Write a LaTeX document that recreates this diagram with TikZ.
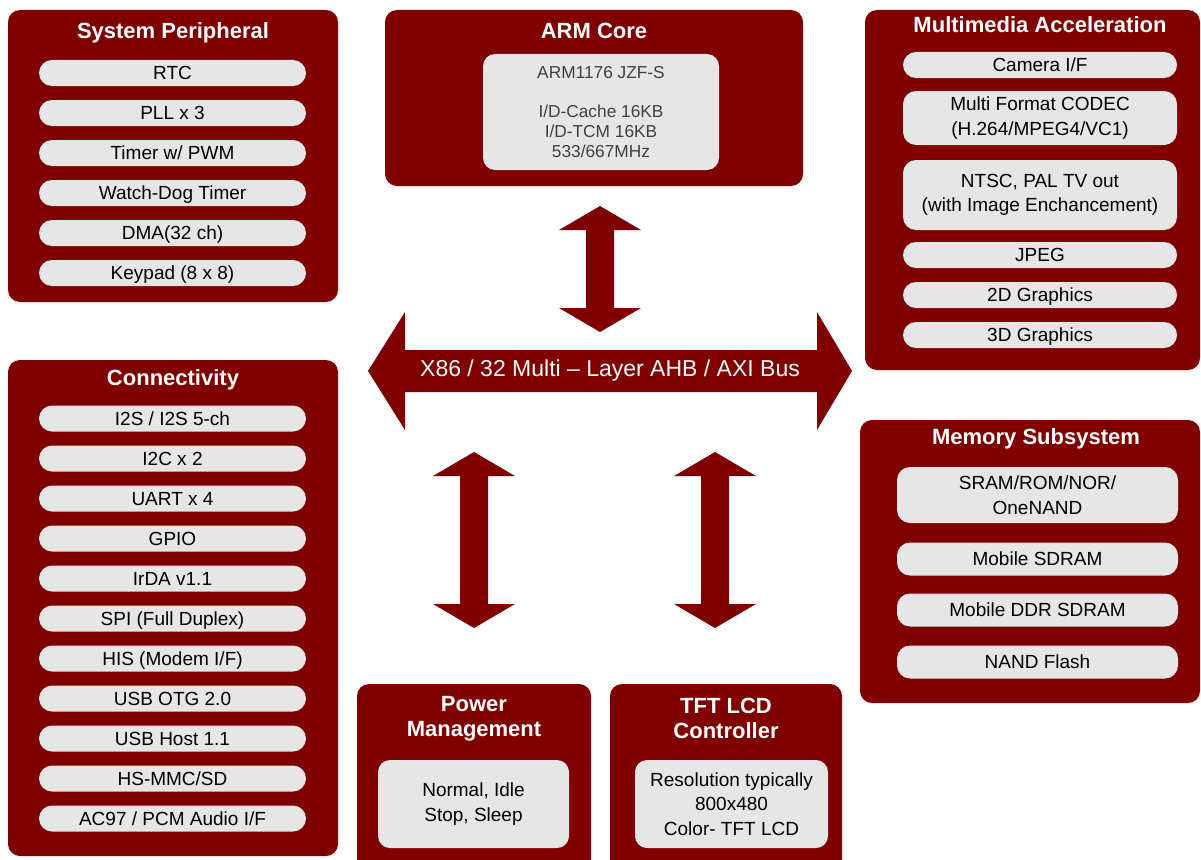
\documentclass[tikz,border=0pt]{standalone}
\usepackage{fontspec}
\setmainfont{Liberation Sans}
\usetikzlibrary{calc}
\usetikzlibrary{positioning}
\definecolor{chipred}{RGB}{128,0,0}
\definecolor{pillgray}{RGB}{230,230,230}
\tikzstyle{block} = [fill=chipred, rounded corners=12pt, inner sep=0pt]
\tikzstyle{blocktitle} = [text=white, align=center,
    font=\fontsize{22}{25}\selectfont\bfseries]
\tikzstyle{pill} = [fill=pillgray, rounded corners=13pt, inner sep=0pt,
    minimum height=26pt, align=center, font=\fontsize{19}{24.5}\selectfont]
\tikzstyle{onepill} = [pill, text height=13.6pt, text depth=0pt]
\tikzstyle{panel} = [fill=pillgray, rounded corners=12pt, inner sep=0pt,
    align=center, font=\fontsize{19}{24.5}\selectfont]
\tikzstyle{busarrow} = [fill=chipred]
% up/down block arrow between two tips
\newcommand{\updown}[2]{\fill[busarrow] (#1) -- ++(41,24) -- ++(-27,0)
    -- ($(#2)+(14,-24)$) -- ++(27,0) -- (#2) -- ++(-41,-24) -- ++(27,0)
    -- ($(#1)+(-14,24)$) -- ++(-27,0) -- cycle;}

\begin{document}
\begin{tikzpicture}[x=1pt, y=-1pt, node distance=40pt]
      \clip (0,0) rectangle (1201,859);

      % system peripheral
      \node [block, minimum width=330pt, minimum height=292pt] (sysper) at (173,156) {};
      \node [blocktitle] (sysperhead) at (173,33) {System Peripheral};
      \node [onepill, minimum width=267pt] (rtc) at (172.5,73) {RTC};
      \node [onepill, minimum width=267pt, below of=rtc] (pll) {PLL x 3};
      \node [onepill, minimum width=267pt, below of=pll] (timer) {Timer w/ PWM};
      \node [onepill, minimum width=267pt, below of=timer] (wdt) {Watch-Dog Timer};
      \node [onepill, minimum width=267pt, below of=wdt] (dma) {DMA(32 ch)};
      \node [onepill, minimum width=267pt, below of=dma] (keypad) {Keypad (8 x 8)};

      % connectivity
      \node [block, minimum width=330pt, minimum height=496pt] (conn) at (173,608) {};
      \node [blocktitle] (connhead) at (173,380) {Connectivity};
      \node [onepill, minimum width=267pt] (i2s) at (172.5,418.5) {I2S / I2S 5-ch};
      \node [onepill, minimum width=267pt, below of=i2s] (i2c) {I2C x 2};
      \node [onepill, minimum width=267pt, below of=i2c] (uart) {UART x 4};
      \node [onepill, minimum width=267pt, below of=uart] (gpio) {GPIO};
      \node [onepill, minimum width=267pt, below of=gpio] (irda) {IrDA v1.1};
      \node [onepill, minimum width=267pt, below of=irda] (spi) {SPI (Full Duplex)};
      \node [onepill, minimum width=267pt, below of=spi] (his) {HIS (Modem I/F)};
      \node [onepill, minimum width=267pt, below of=his] (otg) {USB OTG 2.0};
      \node [onepill, minimum width=267pt, below of=otg] (host) {USB Host 1.1};
      \node [onepill, minimum width=267pt, below of=host] (mmc) {HS-MMC/SD};
      \node [onepill, minimum width=267pt, below of=mmc] (ac97) {AC97 / PCM Audio I/F};

      % arm core
      \node [block, minimum width=418pt, minimum height=176pt] (arm) at (594,98) {};
      \node [blocktitle] (armhead) at (594,31) {ARM Core};
      \node [panel, minimum width=236pt, minimum height=116pt, text=black!75,
          font=\fontsize{17.3}{20}\selectfont] (armcpu) at (601,112)
          {ARM1176 JZF-S\\[19pt]I/D-Cache 16KB\\I/D-TCM 16KB\\533/667MHz};

      % multimedia acceleration
      \node [block, minimum width=335pt, minimum height=360pt] (mm) at (1032.5,190) {};
      \node [blocktitle] (mmhead) at (1040,25) {Multimedia Acceleration};
      \node [onepill, minimum width=274pt] (camera) at (1040,65) {Camera I/F};
      \node [pill, minimum width=274pt, minimum height=54pt] (codec) at (1040,118)
          {Multi Format CODEC\\(H.264/MPEG4/VC1)};
      \node [pill, minimum width=274pt, minimum height=70pt] (tvout) at (1040,195)
          {NTSC, PAL TV out\\(with Image Enchancement)};
      \node [onepill, minimum width=274pt] (jpeg) at (1040,255) {JPEG};
      \node [onepill, minimum width=274pt, below of=jpeg] (gfx2d) {2D Graphics};
      \node [onepill, minimum width=274pt, below of=gfx2d] (gfx3d) {3D Graphics};

      % memory subsystem
      \node [block, minimum width=340pt, minimum height=283pt] (mem) at (1030,561.5) {};
      \node [blocktitle] (memhead) at (1036,439) {Memory Subsystem};
      \node [pill, minimum width=281pt, minimum height=56pt] (sram) at (1037.5,495)
          {SRAM/ROM/NOR/\\OneNAND};
      \node [onepill, minimum width=281pt, minimum height=33pt] (sdram) at (1037.5,559) {Mobile SDRAM};
      \node [onepill, minimum width=281pt, minimum height=33pt] (ddr) at (1037.5,610) {Mobile DDR SDRAM};
      \node [onepill, minimum width=281pt, minimum height=33pt] (nand) at (1037.5,662) {NAND Flash};

      % power management
      \node [block, minimum width=234pt, minimum height=196pt] (pwr) at (474,782) {};
      \node [blocktitle] (pwrhead) at (474,718.5) {Power\\Management};
      \node [panel, minimum width=191pt, minimum height=88pt] (pwrmodes) at (473.5,804)
          {Normal, Idle\\Stop, Sleep};

      % tft lcd controller
      \node [block, minimum width=232pt, minimum height=196pt] (tft) at (726,782) {};
      \node [blocktitle] (tfthead) at (726,718.5) {TFT LCD\\Controller};
      \node [panel, minimum width=193pt, minimum height=88pt] (tftres) at (731.5,804)
          {Resolution typically\\800x480\\Color- TFT LCD};

      % bus
      \coordinate (busL) at (368,371);
      \coordinate (busR) at (852,371);
      \fill [busarrow] (busL) -- ++(37,-59) -- ++(0,38) -- ($(busR)+(-35,-21)$)
          -- ++(0,-38) -- (busR) -- ++(-35,59) -- ++(0,-38)
          -- ($(busL)+(37,21)$) -- ++(0,38) -- cycle;
      \node [text=white, font=\fontsize{23}{26}\selectfont] (bus) at (610,371)
          {X86 / 32 Multi -- Layer AHB / AXI Bus};

      \coordinate (armup) at (600,206);
      \coordinate (armdn) at (600,332);
      \coordinate (pwrup) at (474,452);
      \coordinate (pwrdn) at (474,628);
      \coordinate (tftup) at (715,452);
      \coordinate (tftdn) at (715,628);
      \updown{armup}{armdn}
      \updown{pwrup}{pwrdn}
      \updown{tftup}{tftdn}
    \end{tikzpicture}
\end{document}
